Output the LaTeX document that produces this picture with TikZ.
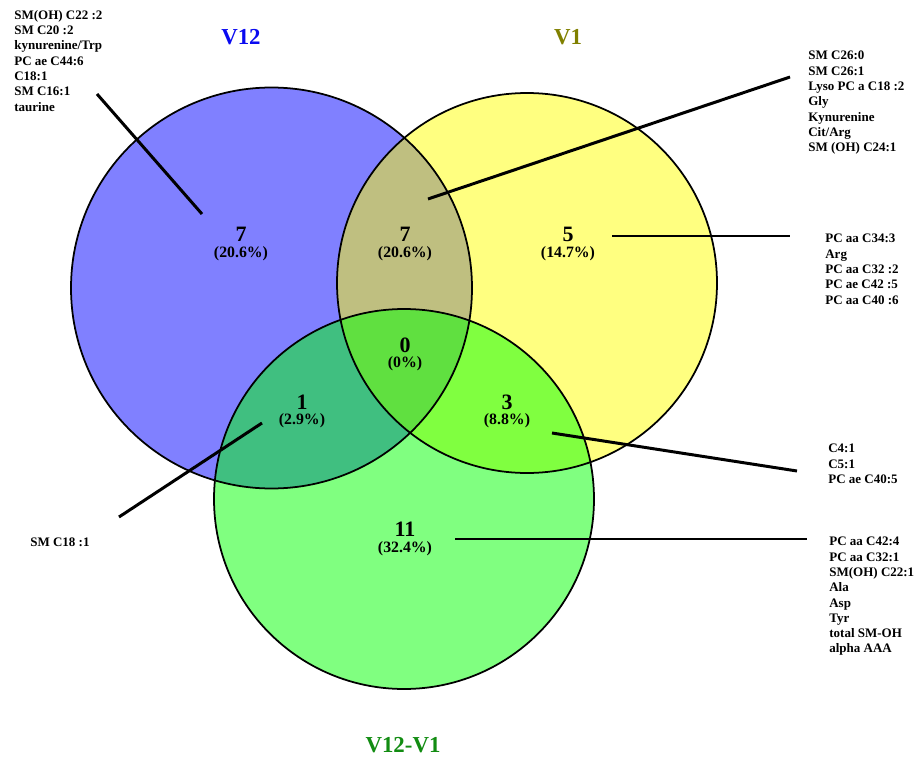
\documentclass[tikz,border=0pt]{standalone}
\usepackage{fontspec}
\setmainfont{Liberation Serif}
\definecolor{vblue}{HTML}{8080FF}
\definecolor{vyellow}{HTML}{FFFF80}
\definecolor{vgreen}{HTML}{80FF80}
\definecolor{vkhaki}{HTML}{BFBF80}
\definecolor{vteal}{HTML}{40BF80}
\definecolor{vlime}{HTML}{80FF40}
\definecolor{vcenter}{HTML}{60E040}
\definecolor{tblue}{HTML}{0A0AF0}
\definecolor{tolive}{HTML}{808000}
\definecolor{tgreen}{HTML}{128C12}
\begin{document}
\begin{tikzpicture}[x=0.02cm,y=-0.02cm,
  circ/.style={draw=black,line width=1pt},
  num/.style={font=\fontsize{12.5}{14}\selectfont\bfseries,inner sep=0pt},
  pct/.style={font=\fontsize{9}{10}\selectfont\bfseries,inner sep=0pt},
  ttl/.style={font=\fontsize{13}{15}\selectfont\bfseries,inner sep=0pt},
  lst/.style={font=\fontsize{7.4}{8.7}\selectfont\bfseries,align=left,anchor=north west,inner sep=0pt},
  conn/.style={line width=1.7pt}]
\useasboundingbox (0,0) rectangle (923,757);
\def\circA{(271.5,288) circle [radius=200.5]}
\def\circB{(527,283) circle [radius=190]}
\def\circC{(404,499) circle [radius=190]}
% fills
\fill[vblue] \circA;
\fill[vyellow] \circB;
\fill[vgreen] \circC;
\begin{scope}\clip \circA; \fill[vkhaki] \circB; \end{scope}
\begin{scope}\clip \circA; \fill[vteal] \circC; \end{scope}
\begin{scope}\clip \circB; \fill[vlime] \circC; \end{scope}
\begin{scope}\clip \circA; \clip \circB; \fill[vcenter] \circC; \end{scope}
% outlines
\draw[circ] \circA;
\draw[circ] \circB;
\draw[circ] \circC;
% titles
\node[ttl,text=tblue] (tA) at (241,37) {V12};
\node[ttl,text=tolive] (tB) at (568,37) {V1};
\node[ttl,text=tgreen] (tC) at (403,745) {V12-V1};
% counts
\node[num] (nA) at (241,234) {7};
\node[pct] (pA) at (241,254) {(20.6\%)};
\node[num] (nAB) at (405,234) {7};
\node[pct] (pAB) at (405,254) {(20.6\%)};
\node[num] (nB) at (568,234) {5};
\node[pct] (pB) at (568,254) {(14.7\%)};
\node[num] (nABC) at (405,345) {0};
\node[pct] (pABC) at (405,364) {(0\%)};
\node[num] (nAC) at (302,402) {1};
\node[pct] (pAC) at (302,421) {(2.9\%)};
\node[num] (nBC) at (507,402) {3};
\node[pct] (pBC) at (507,421) {(8.8\%)};
\node[num] (nC) at (405,529) {11};
\node[pct] (pC) at (405,549) {(32.4\%)};
% lists
\node[lst] (lA) at (14,10) {SM(OH) C22 :2\\SM C20 :2\\kynurenine/Trp\\PC ae C44:6\\C18:1\\SM C16:1\\taurine};
\node[lst] (lAB) at (808,51) {SM C26:0\\SM C26:1\\Lyso PC a C18 :2\\Gly\\Kynurenine\\Cit/Arg\\SM (OH) C24:1};
\node[lst] (lB) at (825,234) {PC aa C34:3\\Arg\\PC aa C32 :2\\PC ae C42 :5\\PC aa C40 :6};
\node[lst] (lBC) at (828,444) {C4:1\\C5:1\\PC ae C40:5};
\node[lst] (lC) at (829,537) {PC aa C42:4\\PC aa C32:1\\SM(OH) C22:1\\Ala\\Asp\\Tyr\\total SM-OH\\alpha AAA};
\node[lst] (lAC) at (30,537) {SM C18 :1};
% connector ends
\coordinate (a1) at (97,94);   \coordinate (a2) at (202,214);
\coordinate (b1) at (428,199); \coordinate (b2) at (790,77);
\coordinate (c1) at (612,236); \coordinate (c2) at (790,236);
\coordinate (d1) at (552,433); \coordinate (d2) at (797,471);
\coordinate (e1) at (262,423); \coordinate (e2) at (119,517);
\coordinate (f1) at (455,539); \coordinate (f2) at (807,539);
\draw[conn] (a1) -- (a2);
\draw[conn] (b1) -- (b2);
\draw[conn] (c1) -- (c2);
\draw[conn] (d1) -- (d2);
\draw[conn] (e1) -- (e2);
\draw[conn] (f1) -- (f2);
\end{tikzpicture}
\end{document}
